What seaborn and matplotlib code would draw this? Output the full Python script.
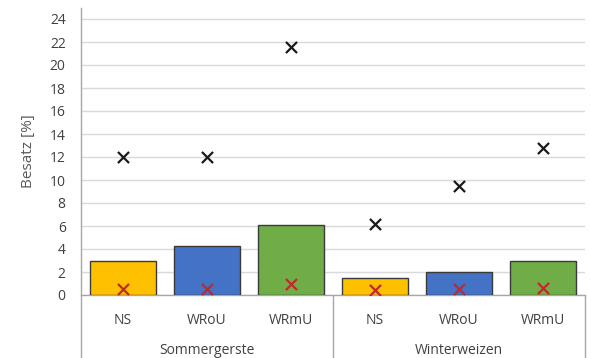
import numpy as np
import pandas as pd
import matplotlib
matplotlib.use("Agg")
import matplotlib.pyplot as plt
import matplotlib.transforms as mtransforms
import seaborn as sns

crops = ["Sommergerste", "Sommergerste", "Sommergerste", "Winterweizen", "Winterweizen", "Winterweizen"]
treatments = ["NS", "WRoU", "WRmU", "NS", "WRoU", "WRmU"]
mean_vals = [3.0, 4.3, 6.1, 1.5, 2.0, 3.0]
max_vals = [12.0, 12.0, 21.6, 6.2, 9.5, 12.8]
min_vals = [0.5, 0.5, 1.0, 0.45, 0.5, 0.6]
yticks = [0, 2, 4, 6, 8, 10, 12, 14, 16, 18, 20, 22, 24]
ylabel = "Besatz [%]"

colors = {"NS": "#FFC000", "WRoU": "#4472C4", "WRmU": "#70AD47"}

df = pd.DataFrame({
    "key": [f"{c} {t}" for c, t in zip(crops, treatments)],
    "crop": crops,
    "treatment": treatments,
    "mean": mean_vals,
    "max": max_vals,
    "min": min_vals,
})
order = list(df["key"])

sns.set_theme(style="white")
plt.rcParams["font.family"] = ["Open Sans", "DejaVu Sans"]

fig = plt.figure(figsize=(5.91, 3.58), dpi=100)
ax = fig.add_axes([81 / 591, 63 / 358, 504 / 591, 287.5 / 358])

sns.barplot(data=df, x="key", y="mean", hue="treatment", palette=colors,
            order=order, dodge=False, width=0.78, edgecolor="#3a3a3a",
            linewidth=1.0, saturation=1, legend=False, ax=ax, zorder=3)
sns.stripplot(data=df, x="key", y="max", order=order, jitter=False,
              marker="x", color="#1a1a1a", size=8, linewidth=1.6, ax=ax, zorder=5)
sns.stripplot(data=df, x="key", y="min", order=order, jitter=False,
              marker="x", color="#C0282D", size=8, linewidth=1.6, ax=ax, zorder=5)

ax.set_xlim(-0.5, len(order) - 0.5)
ax.set_ylim(0, 25)
ax.set_yticks(yticks)
ax.set_yticklabels([str(v) for v in yticks], fontsize=10, color="#404040")
ax.tick_params(axis="y", length=0, pad=11)
ax.grid(axis="y", color="#d9d9d9", linewidth=1.0, zorder=0)
ax.set_axisbelow(True)

ax.set_xticks(range(len(order)))
ax.set_xticklabels(treatments, fontsize=10, color="#404040")
ax.tick_params(axis="x", length=0, pad=13)
ax.set_xlabel("")
ax.set_ylabel(ylabel, fontsize=11, color="#595959", labelpad=10)

for s in ["top", "right"]:
    ax.spines[s].set_visible(False)
ax.spines["left"].set_color("#a6a6a6")
ax.spines["bottom"].set_color("#a6a6a6")
ax.spines["left"].set_linewidth(1.0)
ax.spines["bottom"].set_linewidth(1.0)

trans = mtransforms.blended_transform_factory(ax.transData, ax.transAxes)
for xb in [-0.5, 2.5, 5.5]:
    ax.plot([xb, xb], [0, -0.23], transform=trans, color="#a6a6a6",
            linewidth=1.0, clip_on=False)

groups = []
for c in crops:
    if c not in groups:
        groups.append(c)
for g in groups:
    idx = [i for i, c in enumerate(crops) if c == g]
    ax.text(np.mean(idx), -0.192, g, transform=trans, ha="center", va="center",
            fontsize=10, color="#404040")

fig.savefig("out.png", dpi=100, facecolor="white")
